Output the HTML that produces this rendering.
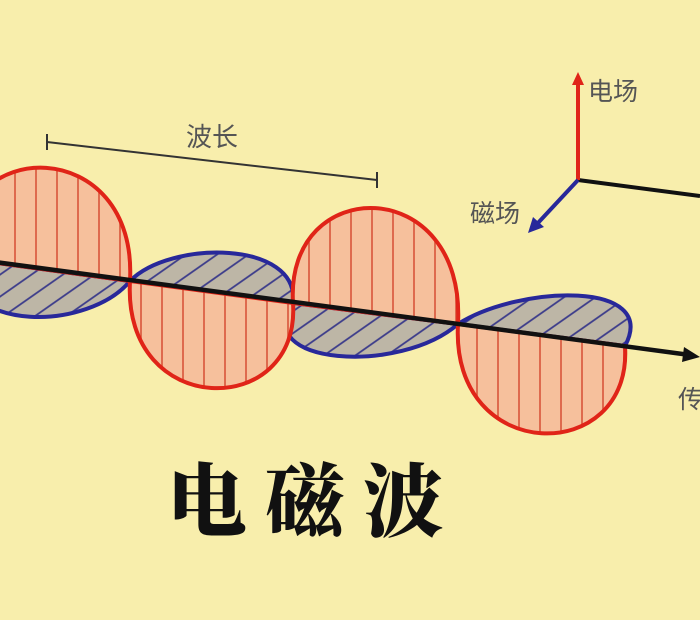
<!DOCTYPE html>
<html><head><meta charset="utf-8"><style>
html,body{margin:0;padding:0;background:#f8eeac;}
svg{display:block;}
</style></head><body>
<svg width="700" height="620" viewBox="0 0 700 620" xmlns="http://www.w3.org/2000/svg">
<defs>
<pattern id="hatch" patternUnits="userSpaceOnUse" width="18" height="18" patternTransform="rotate(-35)">
<rect width="18" height="18" fill="#bdb6a6"/>
<line x1="0" y1="9" x2="18" y2="9" stroke="#3a3a8a" stroke-width="1.8"/>
</pattern>
<pattern id="vl" patternUnits="userSpaceOnUse" width="21" height="10" x="5">
<rect width="21" height="10" fill="#f6c09c"/>
<line x1="10" y1="0" x2="10" y2="10" stroke="#d9553a" stroke-width="1.6"/>
</pattern>
</defs>
<rect width="700" height="620" fill="#f8eeac"/>
<g fill="url(#hatch)" stroke="#28289a" stroke-width="4">
<path d="M-40 258 C -40 335, 90 330, 130 281 Z"/>
<path d="M130 281 C 170 240, 300 240, 293 303 Z"/>
<path d="M293 303 C 250 365, 400 375, 458 324 Z"/>
<path d="M458 324 C 520 285, 660 280, 625 346 Z"/>
</g>
<g fill="url(#vl)" stroke="#e02418" stroke-width="4">
<path d="M-40 258 C -45 134, 138 134, 130 281 Z"/>
<path d="M130 281 C 122 420, 301 420, 293 303 Z"/>
<path d="M293 303 C 285 173, 466 173, 458 324 Z"/>
<path d="M458 324 C 450 466, 633 466, 625 346 Z"/>
</g>
<line x1="-5" y1="262" x2="690" y2="355" stroke="#111" stroke-width="4.5"/>
<polygon points="700,357 684,347 682,362" fill="#111"/>
<line x1="47" y1="142" x2="377" y2="180" stroke="#333" stroke-width="2"/>
<line x1="47" y1="134" x2="47" y2="150" stroke="#333" stroke-width="2"/>
<line x1="377" y1="172" x2="377" y2="188" stroke="#333" stroke-width="2"/>
<text x="186" y="146" font-family="Liberation Sans, Noto Sans CJK SC, sans-serif" font-size="26" fill="#555">波长</text>
<line x1="578" y1="180" x2="700" y2="196" stroke="#111" stroke-width="4"/>
<line x1="578" y1="180" x2="578" y2="82" stroke="#e02418" stroke-width="4"/>
<polygon points="578,72 572,85 584,85" fill="#e02418"/>
<line x1="578" y1="180" x2="537" y2="224" stroke="#28289a" stroke-width="4"/>
<polygon points="528,233 533,217 544,227" fill="#28289a"/>
<text x="588" y="100" font-family="Liberation Sans, Noto Sans CJK SC, sans-serif" font-size="25" fill="#555">电场</text>
<text x="470" y="222" font-family="Liberation Sans, Noto Sans CJK SC, sans-serif" font-size="25" fill="#555">磁场</text>
<text x="678" y="408" font-family="Liberation Sans, Noto Sans CJK SC, sans-serif" font-size="25" fill="#555">传</text>
<text x="167" y="530" font-family="Noto Serif CJK SC, serif" font-weight="900" font-size="80" fill="#111" letter-spacing="18">电磁波</text>
</svg>
</body></html>
